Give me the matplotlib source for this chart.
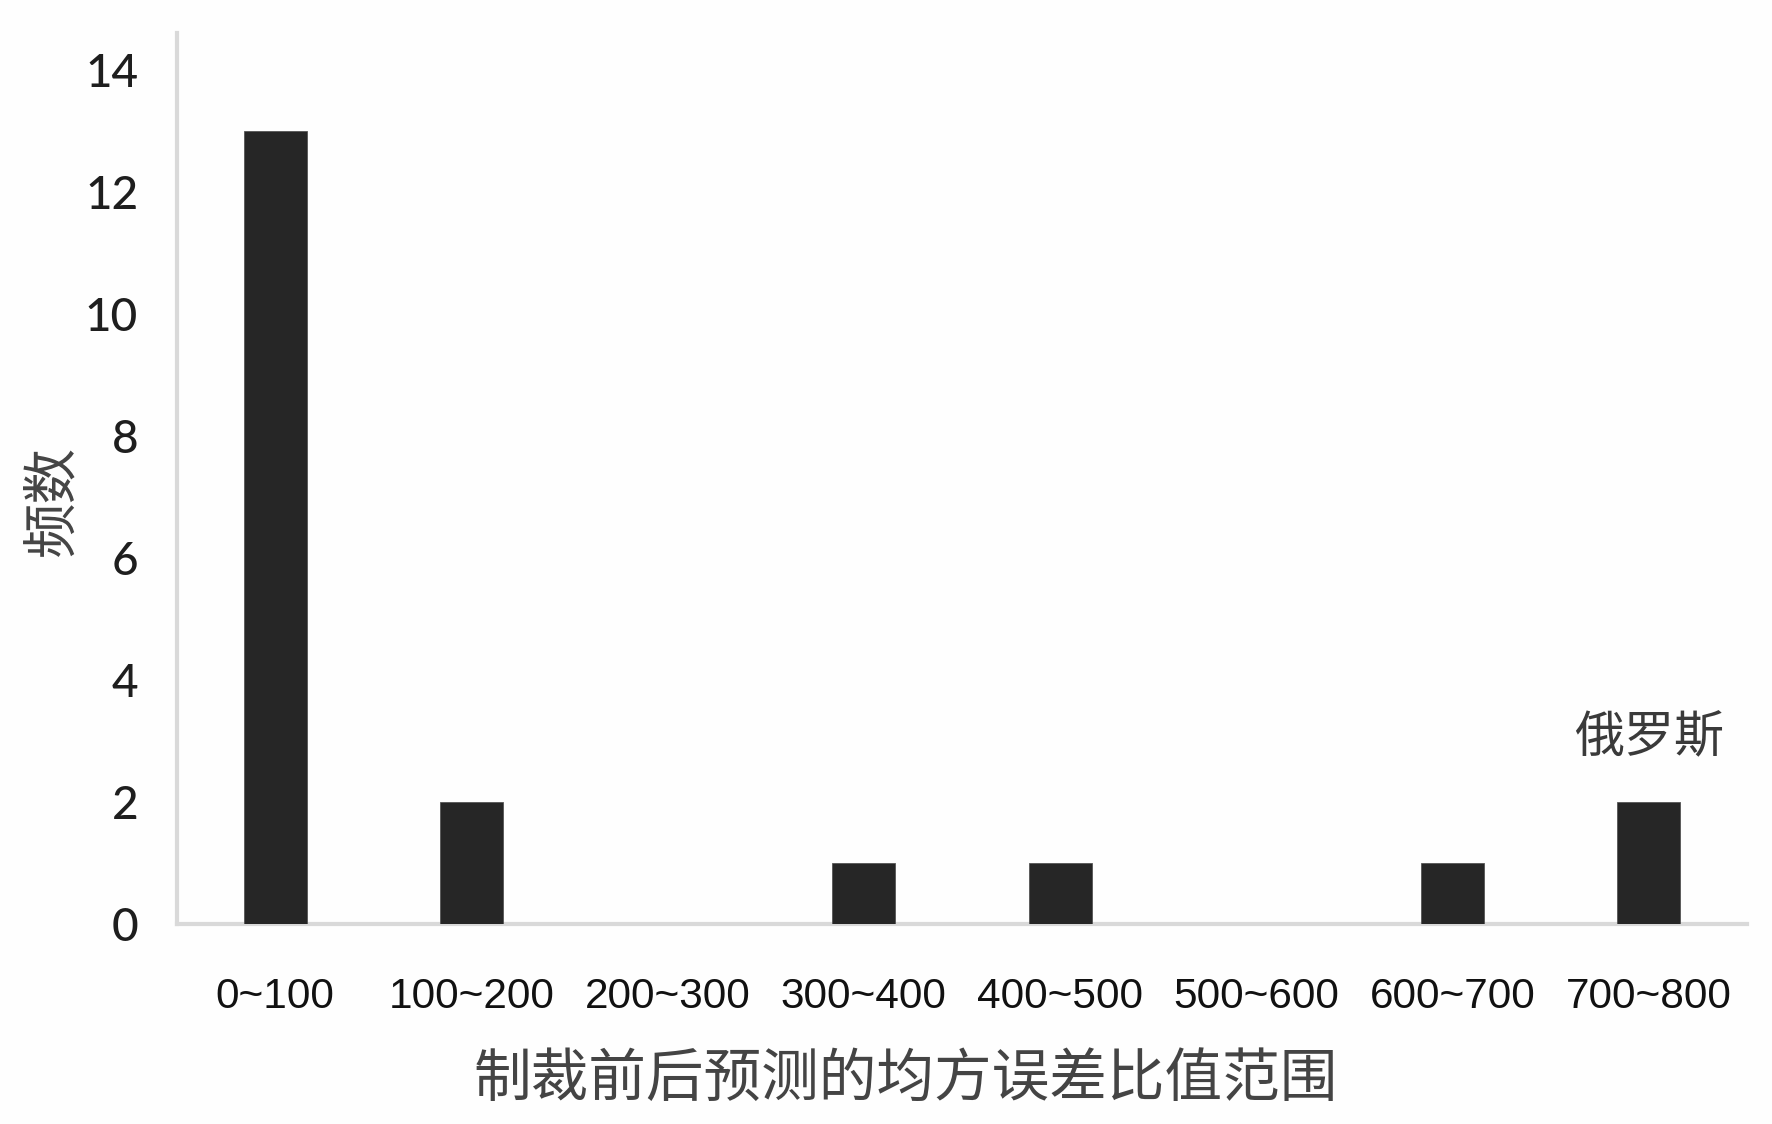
import matplotlib
matplotlib.use("Agg")
import matplotlib.pyplot as plt

categories = ["0~100", "100~200", "200~300", "300~400", "400~500", "500~600", "600~700", "700~800"]
counts = [13, 2, 0, 1, 1, 0, 1, 2]
yticks = [0, 2, 4, 6, 8, 10, 12, 14]
annotation_text = "俄罗斯"
annotation_index = 7
xlabel = "制裁前后预测的均方误差比值范围"
ylabel = "频数"

W, H = 1772, 1124
fig = plt.figure(figsize=(W / 100, H / 100), dpi=100)
fig.patch.set_facecolor("#fefefe")
ax = fig.add_axes([177 / W, 1 - 924 / H, (1747 - 177) / W, (924 - 33.4) / H])
ax.set_facecolor("#fefefe")

x = list(range(len(categories)))
ax.bar(x, counts, width=0.32, color="#262626", edgecolor="#555555", linewidth=0.6, zorder=3)

ax.set_xlim(-0.5, len(categories) - 0.5)
ax.set_ylim(0, 14.6)
ax.set_yticks(yticks)
ax.set_yticklabels([str(v) for v in yticks], fontfamily="Lato", fontsize=33,
                   color="#1e1e1e", fontweight="medium")
ax.set_xticks(x)
ax.set_xticklabels(categories, fontfamily="Liberation Sans", fontsize=30.5, color="#111111")
ax.tick_params(axis="both", length=0)
ax.tick_params(axis="y", pad=28)
ax.tick_params(axis="x", pad=38)

for side in ["top", "right"]:
    ax.spines[side].set_visible(False)
for side in ["left", "bottom"]:
    ax.spines[side].set_color("#d9d9d9")
    ax.spines[side].set_linewidth(3)

cjk = ["Noto Sans CJK SC", "DejaVu Sans"]
ax.text(annotation_index, counts[annotation_index] + 1.05, annotation_text,
        ha="center", va="center", fontsize=36, family=cjk, color="#3a3a3a")

fig.text(906 / W, 1 - 1080 / H, xlabel, ha="center", va="center",
         fontsize=41.5, family=cjk, color="#444444")
fig.text(53 / W, 1 - 500 / H, ylabel, ha="center", va="center", rotation=90,
         fontsize=40, family=cjk, color="#444444")

fig.savefig("out.png", dpi=100, facecolor=fig.get_facecolor())
